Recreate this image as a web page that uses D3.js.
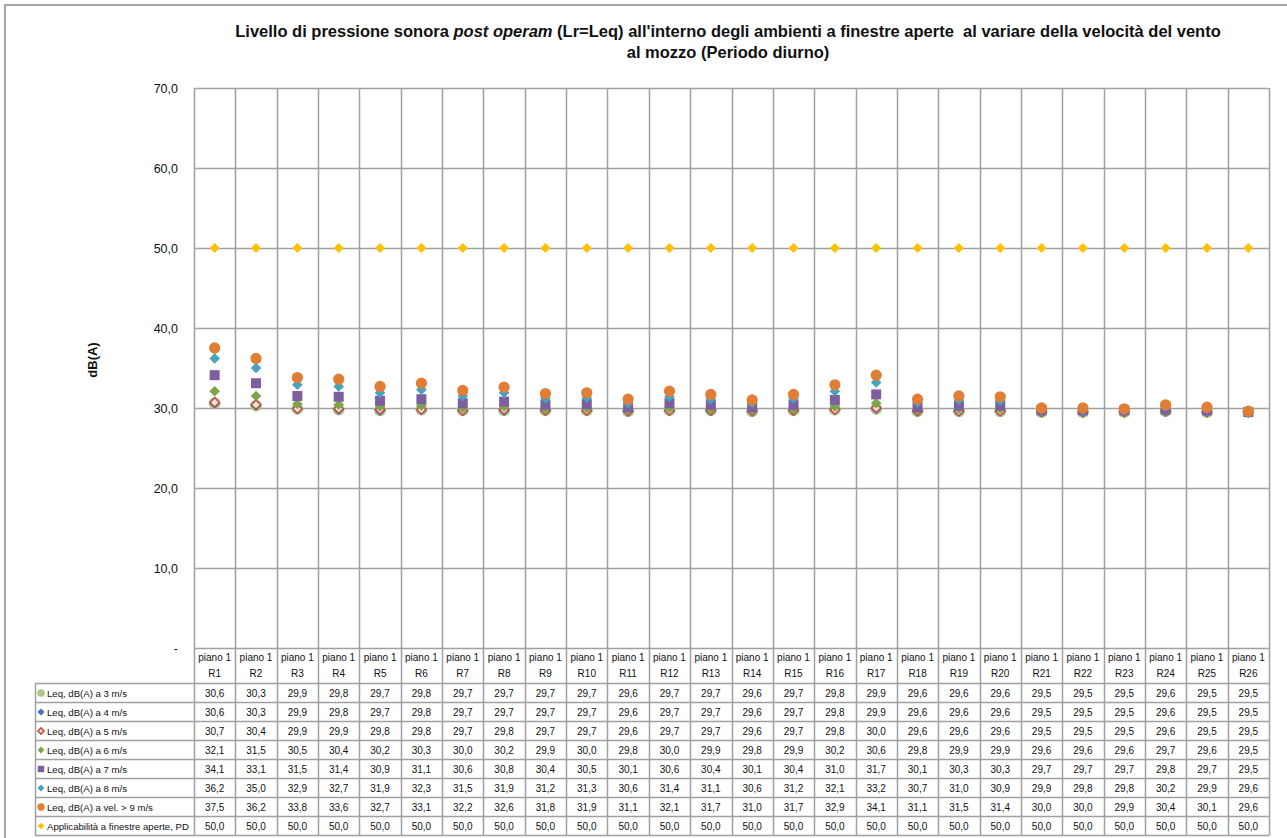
<!DOCTYPE html>
<html>
<head>
<meta charset="utf-8">
<script src="https://cdn.jsdelivr.net/npm/d3@7/dist/d3.min.js"></script>
<style>
  html, body { margin: 0; padding: 0; background: #fff; }
  svg { display: block; font-family: "Liberation Sans", Arial, sans-serif; }
  .title { white-space: pre; }
</style>
</head>
<body>
<svg id="chart" width="1287" height="838"></svg>
<script>
// Receptors (one column each) and floor label
const receptors = ["R1","R2","R3","R4","R5","R6","R7","R8","R9","R10","R11","R12","R13",
  "R14","R15","R16","R17","R18","R19","R20","R21","R22","R23","R24","R25","R26"];
const floorLabel = "piano 1";

// Leq dB(A) by hub wind speed
const leq3 = [30.6,30.3,29.9,29.8,29.7,29.8,29.7,29.7,29.7,29.7,29.6,29.7,29.7,29.6,29.7,29.8,29.9,29.6,29.6,29.6,29.5,29.5,29.5,29.6,29.5,29.5];
const leq4 = [30.6,30.3,29.9,29.8,29.7,29.8,29.7,29.7,29.7,29.7,29.6,29.7,29.7,29.6,29.7,29.8,29.9,29.6,29.6,29.6,29.5,29.5,29.5,29.6,29.5,29.5];
const leq5 = [30.7,30.4,29.9,29.9,29.8,29.8,29.7,29.8,29.7,29.7,29.6,29.7,29.7,29.6,29.7,29.8,30.0,29.6,29.6,29.6,29.5,29.5,29.5,29.6,29.5,29.5];
const leq6 = [32.1,31.5,30.5,30.4,30.2,30.3,30.0,30.2,29.9,30.0,29.8,30.0,29.9,29.8,29.9,30.2,30.6,29.8,29.9,29.9,29.6,29.6,29.6,29.7,29.6,29.5];
const leq7 = [34.1,33.1,31.5,31.4,30.9,31.1,30.6,30.8,30.4,30.5,30.1,30.6,30.4,30.1,30.4,31.0,31.7,30.1,30.3,30.3,29.7,29.7,29.7,29.8,29.7,29.5];
const leq8 = [36.2,35.0,32.9,32.7,31.9,32.3,31.5,31.9,31.2,31.3,30.6,31.4,31.1,30.6,31.2,32.1,33.2,30.7,31.0,30.9,29.9,29.8,29.8,30.2,29.9,29.6];
const leq9 = [37.5,36.2,33.8,33.6,32.7,33.1,32.2,32.6,31.8,31.9,31.1,32.1,31.7,31.0,31.7,32.9,34.1,31.1,31.5,31.4,30.0,30.0,29.9,30.4,30.1,29.6];
// Limit applicable with open windows, daytime
const limitPD = [50.0,50.0,50.0,50.0,50.0,50.0,50.0,50.0,50.0,50.0,50.0,50.0,50.0,50.0,50.0,50.0,50.0,50.0,50.0,50.0,50.0,50.0,50.0,50.0,50.0,50.0];

const seriesNames = [
  "Leq, dB(A) a 3 m/s",
  "Leq, dB(A) a 4 m/s",
  "Leq, dB(A) a 5 m/s",
  "Leq, dB(A) a 6 m/s",
  "Leq, dB(A) a 7 m/s",
  "Leq, dB(A) a 8 m/s",
  "Leq, dB(A) a vel. > 9 m/s",
  "Applicabilità a finestre aperte, PD"
];
const yTicks = [0, 10, 20, 30, 40, 50, 60, 70];
const yTickLabels = ["-", "10,0", "20,0", "30,0", "40,0", "50,0", "60,0", "70,0"];

const titleLine1 = ["Livello di pressione sonora ", "post operam", " (Lr=Leq) all'interno degli ambienti a finestre aperte  al variare della velocità del vento"];
const titleLine2 = "al mozzo (Periodo diurno)";
const yTitle = "dB(A)";

// Marker styles per series
const styles = [
  { shape: "circle",  size: 110, fill: "#A6C985", stroke: "none" },
  { shape: "diamond", size: 60,  fill: "#4A6EB8", stroke: "none" },
  { shape: "diamond", size: 44,  fill: "#FCE6DA", stroke: "#C0504D", sw: 1.6 },
  { shape: "diamond", size: 56,  fill: "#7FA34A", stroke: "none" },
  { shape: "square",  size: 100, fill: "#7D5FA0", stroke: "none" },
  { shape: "diamond", size: 56,  fill: "#47A2C0", stroke: "none" },
  { shape: "circle",  size: 100, fill: "#E07E35", stroke: "none" },
  { shape: "diamond", size: 50,  fill: "#FFC000", stroke: "none" }
];
const seriesValues = [leq3, leq4, leq5, leq6, leq7, leq8, leq9, limitPD];

const svg = d3.select("#chart");
const plot = { left: 194, right: 1269, top: 88, bottom: 648 };
const gridColor = "#A0A0A0";

const x = d3.scaleBand().domain(receptors).range([plot.left, plot.right]).paddingInner(0).paddingOuter(0);
const y = d3.scaleLinear().domain([0, 70]).range([plot.bottom, plot.top]);

// Chart frame
svg.append("path")
  .attr("d", "M5,838 L5,5 L1287,5")
  .attr("fill", "none").attr("stroke", "#A6A6A6").attr("stroke-width", 2);

// Title
const title = svg.append("text").attr("class", "title")
  .attr("x", 728).attr("y", 37)
  .attr("text-anchor", "middle")
  .attr("font-weight", "bold").attr("font-size", 16.5).attr("fill", "#111");
title.selectAll("tspan").data(titleLine1).join("tspan")
  .attr("font-style", (d, i) => i === 1 ? "italic" : "normal")
  .text(d => d);
svg.append("text").attr("class", "title")
  .attr("x", 728).attr("y", 58)
  .attr("text-anchor", "middle")
  .attr("font-weight", "bold").attr("font-size", 16.5).attr("fill", "#111")
  .text(titleLine2);

// Horizontal gridlines
svg.append("g").selectAll("line").data(yTicks).join("line")
  .attr("x1", plot.left).attr("x2", plot.right)
  .attr("y1", d => Math.round(y(d)) + 0.5).attr("y2", d => Math.round(y(d)) + 0.5)
  .attr("stroke", gridColor).attr("stroke-width", 1.5);

// Table geometry
const headRowTop = 683.5;
const rowH = 19;
const tableBottom = headRowTop + rowH * seriesNames.length;
const legendLeft = 35;

// Column boundaries: through plot and table
const bounds = receptors.map(r => x(r)).concat([plot.right]);
svg.append("g").selectAll("line").data(bounds).join("line")
  .attr("x1", d => Math.round(d) + 0.5).attr("x2", d => Math.round(d) + 0.5)
  .attr("y1", plot.top).attr("y2", tableBottom)
  .attr("stroke", gridColor).attr("stroke-width", 1.5);

// Table horizontal rules
const rowLines = d3.range(seriesNames.length + 1).map(i => headRowTop + i * rowH);
svg.append("g").selectAll("line").data(rowLines).join("line")
  .attr("x1", legendLeft).attr("x2", plot.right)
  .attr("y1", d => d).attr("y2", d => d)
  .attr("stroke", gridColor).attr("stroke-width", 1.5);
svg.append("line")
  .attr("x1", legendLeft + 0.5).attr("x2", legendLeft + 0.5)
  .attr("y1", headRowTop).attr("y2", tableBottom)
  .attr("stroke", gridColor).attr("stroke-width", 1.5);

// Y axis labels
svg.append("g").selectAll("text").data(yTicks).join("text")
  .attr("x", 178).attr("y", d => y(d) + 4.5)
  .attr("text-anchor", "end").attr("font-size", 12.5).attr("fill", "#111")
  .text((d, i) => yTickLabels[i]);

svg.append("text")
  .attr("transform", "translate(97,360) rotate(-90)")
  .attr("text-anchor", "middle").attr("font-weight", "bold").attr("font-size", 13).attr("fill", "#111")
  .text(yTitle);

// Category header (two lines)
const head = svg.append("g").attr("font-size", 10).attr("fill", "#111").attr("text-anchor", "middle");
head.selectAll("text.fl").data(receptors).join("text").attr("class", "fl")
  .attr("x", d => x(d) + x.bandwidth() / 2).attr("y", 661)
  .text(floorLabel);
head.selectAll("text.rc").data(receptors).join("text").attr("class", "rc")
  .attr("x", d => x(d) + x.bandwidth() / 2).attr("y", 676.5)
  .text(d => d);

// Marker generator
function markerPath(st, scale) {
  const s = st.size * (scale || 1);
  if (st.shape === "circle") return d3.symbol(d3.symbolCircle, s)();
  return d3.symbol(d3.symbolSquare, s)();
}
function applyMarker(sel, st, scale) {
  sel.attr("d", markerPath(st, scale))
    .attr("fill", st.fill)
    .attr("stroke", st.stroke)
    .attr("stroke-width", st.sw || 0);
}
const fmt = v => d3.format(".1f")(v).replace(".", ",");

// Data rows
seriesValues.forEach((vals, si) => {
  const rowY = headRowTop + si * rowH + rowH / 2;
  const st = styles[si];
  const key = svg.append("path")
    .attr("transform", `translate(41,${rowY})` + (st.shape === "diamond" ? " rotate(45)" : ""));
  applyMarker(key, st, 0.42);
  svg.append("text")
    .attr("x", 47).attr("y", rowY + 3.5)
    .attr("font-size", 9.6).attr("fill", "#111")
    .text(seriesNames[si]);
  svg.append("g").selectAll("text").data(vals).join("text")
    .attr("x", (d, i) => x(receptors[i]) + x.bandwidth() / 2)
    .attr("y", rowY + 3.5)
    .attr("text-anchor", "middle").attr("font-size", 10).attr("fill", "#111")
    .text(d => fmt(d));
});

// Points
seriesValues.forEach((vals, si) => {
  const st = styles[si];
  const g = svg.append("g");
  g.selectAll("path").data(vals).join("path")
    .attr("transform", (d, i) => `translate(${x(receptors[i]) + x.bandwidth() / 2},${y(d)})` +
      (st.shape === "diamond" ? " rotate(45)" : ""))
    .each(function() { applyMarker(d3.select(this), st); });
});
</script>
</body>
</html>
